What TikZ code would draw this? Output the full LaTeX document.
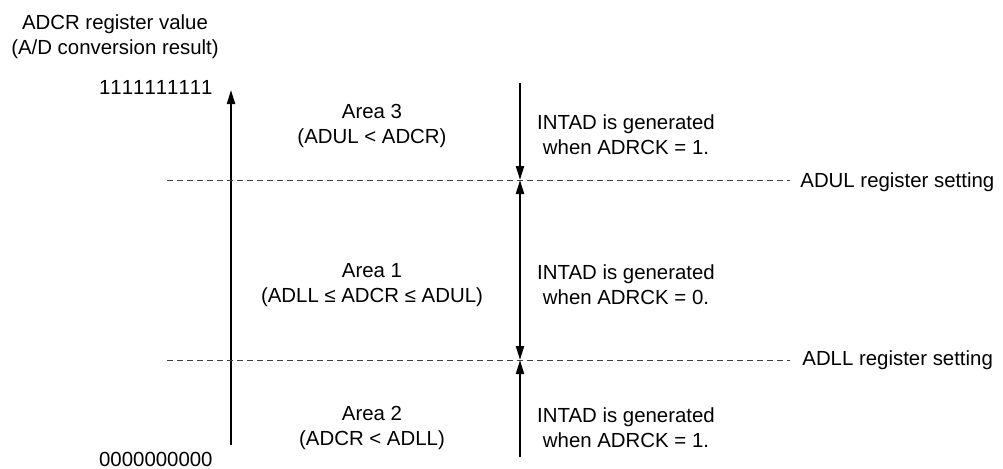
\documentclass[tikz,border=0pt]{standalone}
\usepackage{fontspec}
\setmainfont{Liberation Sans}
\usetikzlibrary{arrows.meta, positioning}

\begin{document}
\begin{tikzpicture}[
  x=0.5pt, y=-0.5pt,
  >={Triangle[length=7pt, width=4pt]},
  lbl/.style   = {align=center, font=\fontsize{10.2}{12.5}\selectfont,
                  inner sep=0pt},
  code/.style  = {lbl, anchor=east,
                  font=\fontsize{10.2}{12.5}\selectfont\addfontfeatures{Kerning=Off}},
  axis/.style  = {line width=1pt, ->},
  level/.style = {draw=black!75, line width=0.5pt,
                  dash pattern=on 3pt off 2pt},
  trig/.style  = {line width=1pt}
]
\useasboundingbox (0,0) rectangle (1003,468);

% Axis (left)
\node[lbl]   (ttl)  at (115,37)  {ADCR register value\\(A/D conversion result)};
\node[code]  (vmax) at (213,87)  {1111111111};
\node[code]  (vmin) at (213,459) {0000000000};
\coordinate (ax0) at (231,445);
\coordinate (ax1) at (231,90);
\draw[axis] (ax0) -- (ax1);

% Register settings (dashed levels)
\coordinate (ul0) at (167,180);
\coordinate (ul1) at (790,180);
\coordinate (ll0) at (167,360);
\coordinate (ll1) at (790,360);
\draw[level] (ul0) -- (ul1);
\draw[level] (ll0) -- (ll1);
\node[lbl, anchor=west]    (adul) at (800,182) {ADUL register setting};
\node[lbl, anchor=west]    (adll) at (802,360) {ADLL register setting};

% Areas
\node[lbl] (area3) at (372,126) {Area 3\\(ADUL < ADCR)};
\node[lbl] (area1) at (372,285) {Area 1\\(ADLL ≤ ADCR ≤ ADUL)};
\node[lbl] (area2) at (372,428) {Area 2\\(ADCR < ADLL)};

% INTAD conditions (right)
\coordinate (rtop) at (520,83);
\coordinate (rul)  at (520,180);
\coordinate (rll)  at (520,360);
\coordinate (rbot) at (520,457);
\draw[trig, ->]   (rtop) -- (rul);
\draw[trig, <->]  (rll)  -- (rul);
\draw[trig, ->]   (rbot) -- (rll);
\node[lbl] (int3) at (626,135) {INTAD is generated\\when ADRCK = 1.};
\node[lbl] (int1) at (626,285) {INTAD is generated\\when ADRCK = 0.};
\node[lbl] (int2) at (626,428) {INTAD is generated\\when ADRCK = 1.};

\end{tikzpicture}
\end{document}
